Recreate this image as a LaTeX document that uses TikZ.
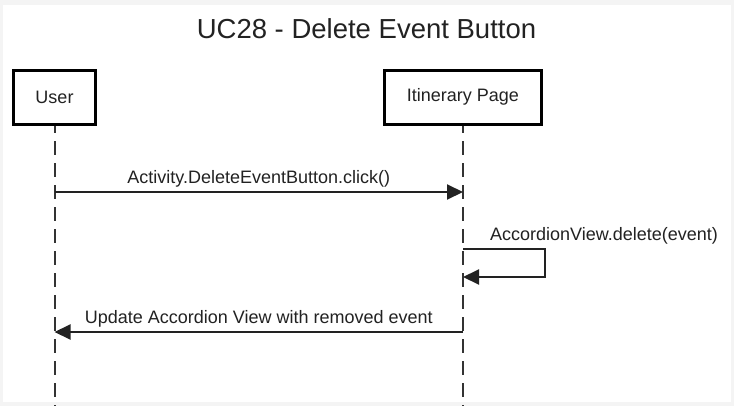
\documentclass[tikz,border=0pt]{standalone}
\usepackage{xcolor}
\usepackage{fontspec}
\setmainfont{Liberation Sans}
\usepackage{tikz}
\usetikzlibrary{positioning,arrows.meta,calc}
\definecolor{pagegray}{HTML}{F4F4F4}
\definecolor{inkdark}{HTML}{222222}
\definecolor{lifegray}{HTML}{333333}

\tikzset{
  actorbox/.style={draw=black, line width=3pt, fill=white, minimum height=54pt, inner sep=0pt, font=\fontsize{18}{22}\selectfont, text=inkdark},
  lifeline/.style={draw=lifegray, line width=2pt, dash pattern=on 14pt off 8pt},
  msg/.style={draw=inkdark, line width=2pt, -{Triangle[length=16pt,width=15pt]}},
  msglabel/.style={inner sep=0pt, font=\fontsize{18}{22}\selectfont, text=inkdark}
}

\begin{document}
\begin{tikzpicture}[x=1pt, y=-1pt]
    \fill[pagegray] (0,0) rectangle (734,406);
    \fill[white] (3,5) rectangle (731,402);
    \node[anchor=base, inner sep=0pt, font=\fontsize{27.5}{33}\selectfont, text=inkdark] (title) at (366.5,38) {UC28 - Delete Event Button};

    \coordinate (userend) at (54.5,406);
    \coordinate (pageend) at (463,406);
    \draw[lifeline] (54.5,97) -- (userend);
    \draw[lifeline] (463,97) -- (pageend);
    \node[actorbox, minimum width=82pt] (user) at (54.5,97) {User};
    \node[actorbox, minimum width=157pt] (page) at (463,97) {Itinerary Page};

    \coordinate (u1) at (54.5,192);
    \coordinate (p1) at (463,192);
    \coordinate (p2) at (463,249);
    \coordinate (p3) at (463,277);
    \coordinate (u4) at (54.5,332);
    \coordinate (p4) at (463,332);

    \draw[msg] (u1) -- (p1) node[msglabel, midway, anchor=base, yshift=9pt] (clicklbl) {Activity.DeleteEventButton.click()};
    \draw[msg] (p2) -- ++(82,0) |- (p3);
    \node[msglabel, anchor=base west] (deletelbl) at (490,240) {AccordionView.delete(event)};
    \draw[msg] (p4) -- (u4) node[msglabel, midway, anchor=base, yshift=9pt] (updatelbl) {Update Accordion View with removed event};
  \end{tikzpicture}
\end{document}
